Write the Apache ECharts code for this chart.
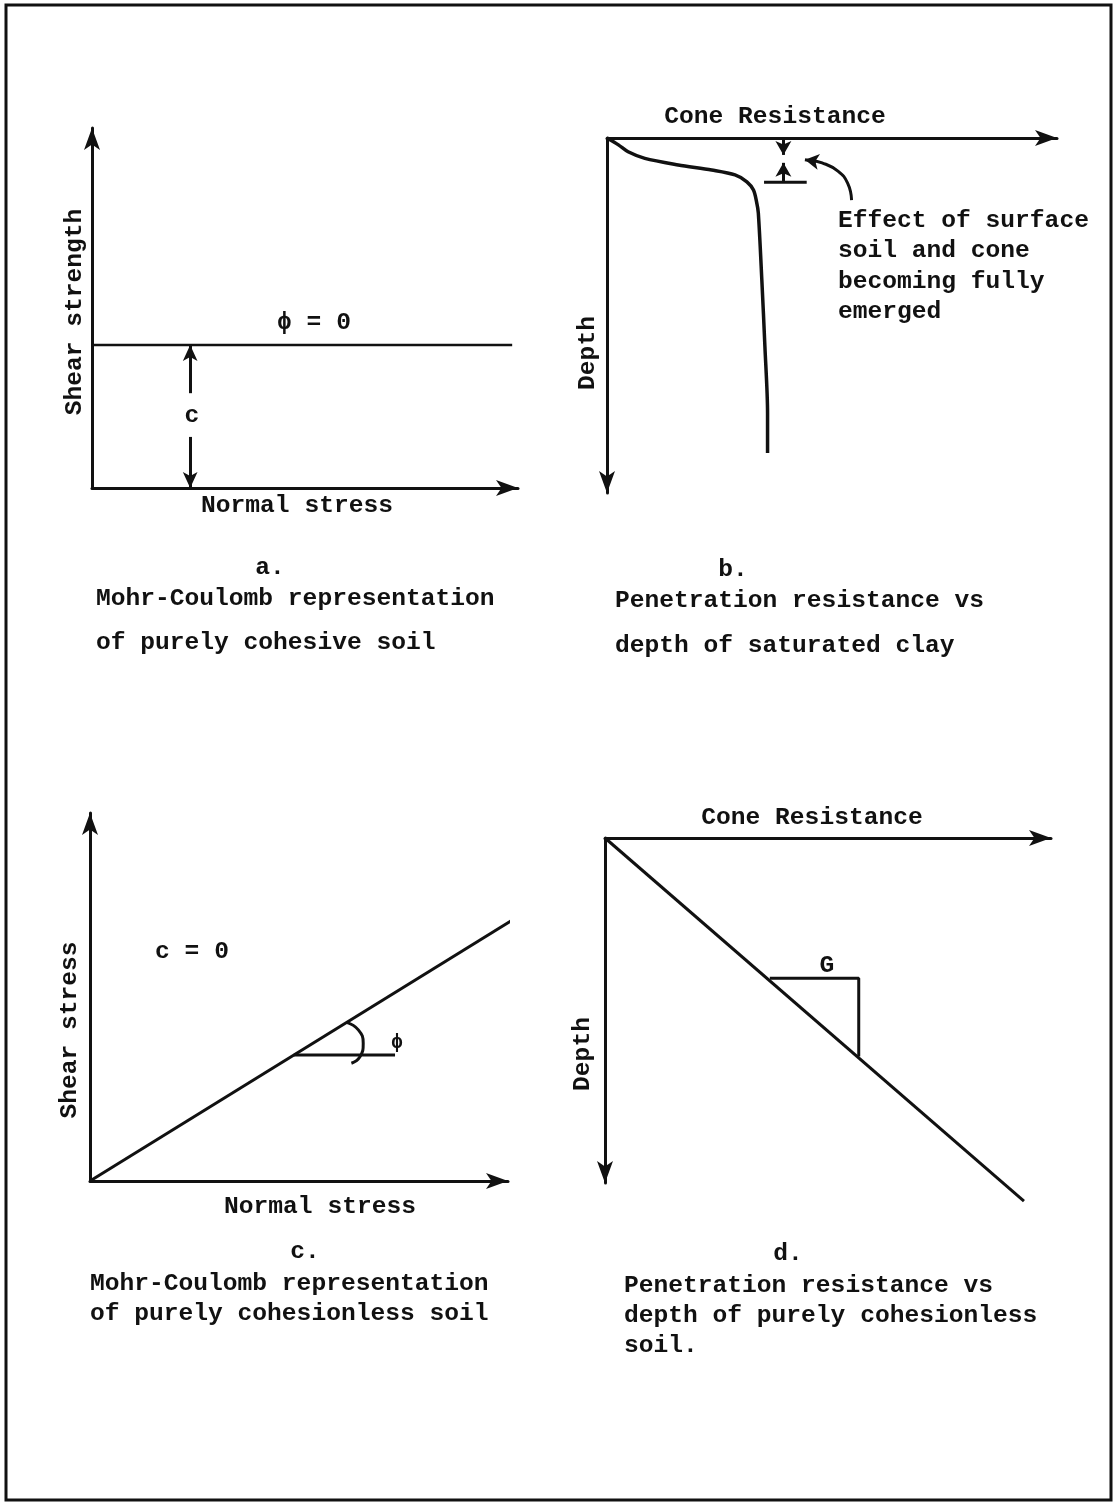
<!DOCTYPE html>
<html>
<head>
<meta charset="utf-8">
<script src="https://cdn.jsdelivr.net/npm/echarts@6/dist/echarts.min.js"></script>
<style>
html,body{margin:0;padding:0;background:#fff;}
#chart{width:1114px;height:1505px;}
</style>
</head>
<body>
<div id="chart"></div>
<script>
// ---------- DATA (schematic units, 0..10 on each axis) ----------
// Panel a: Mohr-Coulomb, purely cohesive soil (phi = 0)
const aEnvelope = [[0, 4.09], [10.1, 4.09]];
const aCohesionTop = [[2.36, 2.71], [2.36, 4.09]];
const aCohesionBottom = [[2.36, 1.46], [2.36, 0]];

// Panel b: penetration resistance vs depth, saturated clay
const bResistance = [0, 0.26, 0.48, 0.86, 1.62, 2.38, 2.91, 3.18, 3.33, 3.40, 3.44, 3.52, 3.59, 3.65, 3.65];
const bDepth      = [0, 0.20, 0.40, 0.59, 0.78, 0.93, 1.07, 1.27, 1.51, 1.85, 2.17, 4.12, 6.05, 7.97, 9.13];
const bMarkDown = [[4.01, 0], [4.01, 0.49]];
const bMarkUp = [[4.01, 1.28], [4.01, 0.72]];
const bMarkBar = [[3.57, 1.28], [4.54, 1.28]];
const bPointerCurve = [[5.56, 1.80], [5.47, 1.31], [5.25, 0.96], [4.89, 0.72], [4.62, 0.65]];
const bPointerTip = [[4.75, 0.68], [4.50, 0.63]];

// Panel c: Mohr-Coulomb, purely cohesionless soil (c = 0)
const cEnvelope = [[0, 0], [10.56, 7.43]];
const cAngleBase = [[5.0, 3.52], [7.48, 3.52]];
const cAngleArc = [[6.29, 4.43], [6.58, 4.22], [6.70, 3.85], [6.62, 3.47], [6.41, 3.29]];

// Panel d: penetration resistance vs depth, cohesionless soil
const dLine = [[0, 0], [9.61, 10.84]];
const dGradient = [[3.78, 4.19], [5.82, 4.19], [5.82, 6.52]];

// Text labels
const axisTitles = ['Shear strength', 'Normal stress', 'Cone Resistance', 'Depth', 'Shear stress'];
const panelLetters = ['a.', 'b.', 'c.', 'd.'];
const noteB = ['Effect of surface', 'soil and cone', 'becoming fully', 'emerged'];
const captionA = ['Mohr-Coulomb representation', 'of purely cohesive soil'];
const captionB = ['Penetration resistance vs', 'depth of saturated clay'];
const captionC = ['Mohr-Coulomb representation', 'of purely cohesionless soil'];
const captionD = ['Penetration resistance vs', 'depth of purely cohesionless', 'soil.'];
const symbolLabels = ['\u03d5 = 0', 'c', 'c = 0', '\u03d5', 'G'];

// ---------- CHART ----------
const INK = '#111';
const FONT = '"Liberation Mono", "DejaVu Sans Mono", monospace';
const chart = echarts.init(document.getElementById('chart'), null, {renderer: 'canvas'});

function axisLine(inv) {
  return {show: true, onZero: false, symbol: inv ? ['arrow', 'none'] : ['none', 'arrow'],
          symbolSize: [12, 22], lineStyle: {color: INK, width: 3}};
}
function valAxis(grid, max, extra, inv) {
  return Object.assign({
    type: 'value', gridIndex: grid, min: 0, max: max,
    axisLine: axisLine(inv), axisTick: {show: false}, axisLabel: {show: false},
    splitLine: {show: false}
  }, extra || {});
}
function lineSeries(grid, data, w, extra) {
  return Object.assign({
    type: 'line', xAxisIndex: grid, yAxisIndex: grid, data: data,
    symbol: 'none', clip: false, silent: true, animation: false,
    lineStyle: {color: INK, width: w || 3}
  }, extra || {});
}
function arrowMark(grid, pairs, size) {
  return {
    type: 'line', xAxisIndex: grid, yAxisIndex: grid, data: [], symbol: 'none', silent: true,
    markLine: {
      silent: true, animation: false,
      symbol: ['none', 'arrow'], symbolSize: size || [11, 16],
      label: {show: false},
      lineStyle: {color: INK, width: 3, type: 'solid'},
      data: pairs.map(p => [{coord: p[0]}, {coord: p[1]}])
    }
  };
}
function txt(s, x, y, opt) {
  opt = opt || {};
  return {
    type: 'text', x: x, y: y, rotation: opt.rot || 0, silent: true,
    style: {text: s, fill: INK, font: 'bold ' + (opt.size || 24.6) + 'px ' + FONT,
            align: opt.align || 'center', verticalAlign: 'middle'}
  };
}

const grids = [
  {left: 92, top: 128, width: 426, height: 360},   // a
  {left: 607, top: 138, width: 450, height: 355},  // b
  {left: 90, top: 813, width: 418, height: 368},   // c
  {left: 605, top: 838, width: 446, height: 345}   // d
];

const option = {
  animation: false,
  backgroundColor: '#fff',
  grid: grids,
  xAxis: [
    valAxis(0, 10.24, {position: 'bottom'}),
    valAxis(1, 10.23, {position: 'top'}),
    valAxis(2, 10.25, {position: 'bottom'}),
    valAxis(3, 10.23, {position: 'top'})
  ],
  yAxis: [
    valAxis(0, 10.29, {position: 'left'}),
    valAxis(1, 10.29, {position: 'left', inverse: true}, true),
    valAxis(2, 10.28, {position: 'left'}),
    valAxis(3, 10.30, {position: 'left', inverse: true}, true)
  ],
  series: [
    lineSeries(0, aEnvelope, 2.5),
    arrowMark(0, [aCohesionTop, aCohesionBottom]),
    lineSeries(1, bResistance.map((v, i) => [v, bDepth[i]]), 3.5, {smooth: 0.3}),
    arrowMark(1, [bMarkDown, bMarkUp], [12, 14]),
    lineSeries(1, bMarkBar, 3),
    lineSeries(1, bPointerCurve, 3, {smooth: 0.5}),
    arrowMark(1, [bPointerTip], [12, 14]),
    lineSeries(2, cEnvelope, 3),
    lineSeries(2, cAngleBase, 3),
    lineSeries(2, cAngleArc, 3, {smooth: 0.5}),
    lineSeries(3, dLine, 3),
    lineSeries(3, dGradient, 3)
  ],
  graphic: [
    {type: 'rect', shape: {x: 6, y: 5, width: 1105, height: 1495}, silent: true,
     style: {fill: 'none', stroke: INK, lineWidth: 3}},
    // panel a
    txt(axisTitles[0], 75, 312, {rot: Math.PI / 2}),
    txt(axisTitles[1], 297, 506),
    txt(symbolLabels[0], 314, 323),
    txt(symbolLabels[1], 192, 416),
    txt(panelLetters[0], 270, 568),
    txt(captionA[0], 96, 599, {align: 'left'}),
    txt(captionA[1], 96, 643, {align: 'left'}),
    // panel b
    txt(axisTitles[2], 775, 117),
    txt(axisTitles[3], 588, 353, {rot: Math.PI / 2}),
    txt(noteB[0], 838, 221, {align: 'left'}),
    txt(noteB[1], 838, 251, {align: 'left'}),
    txt(noteB[2], 838, 282, {align: 'left'}),
    txt(noteB[3], 838, 312, {align: 'left'}),
    txt(panelLetters[1], 733, 570),
    txt(captionB[0], 615, 601, {align: 'left'}),
    txt(captionB[1], 615, 646, {align: 'left'}),
    // panel c
    txt(axisTitles[4], 70, 1030, {rot: Math.PI / 2}),
    txt(axisTitles[1], 320, 1207),
    txt(symbolLabels[2], 192, 952),
    txt(symbolLabels[3], 397, 1043, {size: 20}),
    txt(panelLetters[2], 305, 1252),
    txt(captionC[0], 90, 1284, {align: 'left'}),
    txt(captionC[1], 90, 1314, {align: 'left'}),
    // panel d
    txt(axisTitles[2], 812, 818),
    txt(axisTitles[3], 583, 1054, {rot: Math.PI / 2}),
    txt(symbolLabels[4], 827, 966),
    txt(panelLetters[3], 788, 1254),
    txt(captionD[0], 624, 1286, {align: 'left'}),
    txt(captionD[1], 624, 1316, {align: 'left'}),
    txt(captionD[2], 624, 1346, {align: 'left'})
  ]
};
chart.setOption(option);
</script>
</body>
</html>
